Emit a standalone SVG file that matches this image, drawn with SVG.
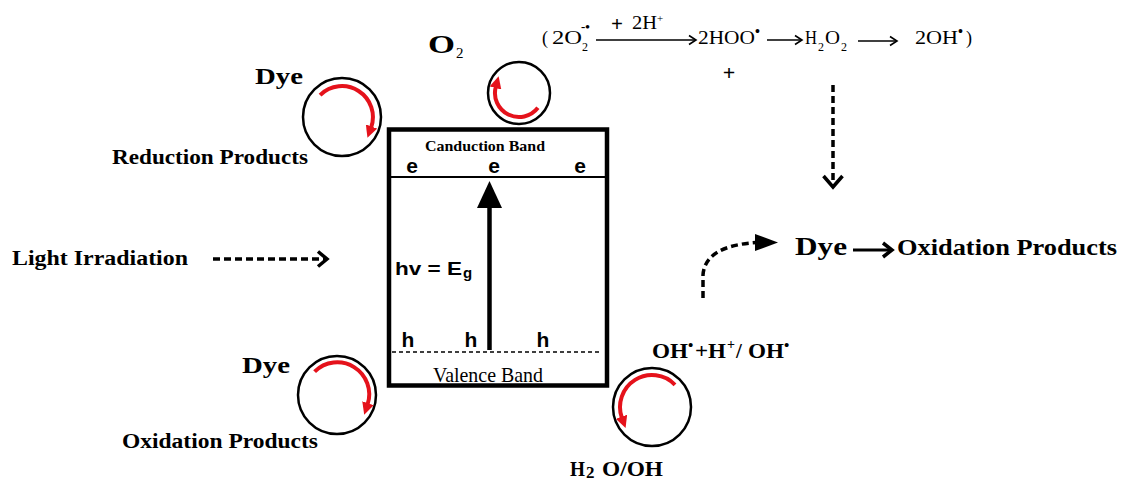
<svg xmlns="http://www.w3.org/2000/svg" width="1123" height="480" viewBox="0 0 1123 480">
<style>
.sb{font-family:"Liberation Serif","Times New Roman",serif;font-weight:bold;fill:#000}
.sr{font-family:"Liberation Serif","Times New Roman",serif;fill:#000}
.ab{font-family:"Liberation Sans",Arial,sans-serif;font-weight:bold;fill:#000}
.ring{fill:#fff;stroke:#000;stroke-width:2.5}
.red{fill:none;stroke:#e5121b;stroke-width:4;marker-end:url(#rh)}
.dash{fill:none;stroke:#000;stroke-width:3.5;stroke-dasharray:7 4}
.thin{fill:none;stroke:#000;stroke-width:1.6}
.chev{fill:none;stroke:#000;stroke-width:3.5;stroke-linejoin:miter}
.dot{fill:#000}
</style>
<defs>
<marker id="rh" viewBox="0 0 10 10" refX="1" refY="5" markerWidth="12" markerHeight="12" markerUnits="userSpaceOnUse" orient="auto">
<path d="M0,0 L10,5 L0,10 z" fill="#e5121b"/>
</marker>
</defs>
<rect width="1123" height="480" fill="#fff"/>

<g id="semiconductor">
<rect x="389" y="129.5" width="218" height="256" fill="none" stroke="#000" stroke-width="4.5"/>
<line x1="391" y1="177" x2="605" y2="177" stroke="#000" stroke-width="2"/>
<line x1="392" y1="352" x2="601" y2="352" stroke="#000" stroke-width="1.5" stroke-dasharray="4 3"/>
<text class="sb" x="425" y="151" font-size="15" textLength="120" lengthAdjust="spacingAndGlyphs">Canduction Band</text>
<text class="ab" x="412" y="173" font-size="21" text-anchor="middle">e</text>
<text class="ab" x="494" y="173" font-size="21" text-anchor="middle">e</text>
<text class="ab" x="580" y="173" font-size="21" text-anchor="middle">e</text>
<text class="ab" x="408" y="347" font-size="21" text-anchor="middle">h</text>
<text class="ab" x="471" y="347" font-size="21" text-anchor="middle">h</text>
<text class="ab" x="543" y="347" font-size="21" text-anchor="middle">h</text>
<text class="sr" x="433" y="382" font-size="22" textLength="110" lengthAdjust="spacingAndGlyphs">Valence Band</text>
<text class="ab" x="395" y="275" font-size="19" textLength="67" lengthAdjust="spacingAndGlyphs">hv = E</text>
<text class="ab" x="463" y="278" font-size="15">g</text>
<line x1="489.5" y1="350" x2="489.5" y2="205" stroke="#000" stroke-width="4.5"/>
<polygon points="477,208 489.5,181 502,208" fill="#000"/>
</g>

<g id="dye-reduction">
<circle class="ring" cx="342" cy="117" r="39"/>
<path class="red" d="M320.1,95.1 A31,31 0 0 1 371.1,127.6"/>
<text class="sb" x="255" y="84" font-size="23" textLength="48" lengthAdjust="spacingAndGlyphs">Dye</text>
<text class="sb" x="112" y="164" font-size="20" textLength="196" lengthAdjust="spacingAndGlyphs">Reduction Products</text>
</g>

<g id="o2">
<circle class="ring" cx="519" cy="93" r="31"/>
<path class="red" d="M537.9,107.8 A24,24 0 0 1 495.8,86.8"/>
<text class="sb" x="428" y="53" font-size="26" textLength="27" lengthAdjust="spacingAndGlyphs">O</text>
<text class="sr" x="456" y="58" font-size="15">2</text>
</g>

<g id="dye-oxidation">
<circle class="ring" cx="337" cy="395" r="39"/>
<path class="red" d="M314.6,371.7 A32,32 0 0 1 367.6,404.4"/>
<text class="sb" x="242" y="373" font-size="23" textLength="48" lengthAdjust="spacingAndGlyphs">Dye</text>
<text class="sb" x="122" y="448" font-size="20" textLength="196" lengthAdjust="spacingAndGlyphs">Oxidation Products</text>
</g>

<g id="water">
<circle class="ring" cx="652" cy="407" r="39"/>
<path class="red" d="M675,384.8 A32,32 0 0 0 621.9,417.9"/>
<text class="sb" x="652" y="358" font-size="21" textLength="36" lengthAdjust="spacingAndGlyphs">OH</text>
<text class="sb" x="688" y="350" font-size="15">•</text>
<text class="sb" x="695" y="358" font-size="21" textLength="31" lengthAdjust="spacingAndGlyphs">+H</text>
<text class="sb" x="727" y="349" font-size="14">+</text>
<text class="sb" x="736" y="358" font-size="21">/</text>
<text class="sb" x="748" y="358" font-size="21" textLength="36" lengthAdjust="spacingAndGlyphs">OH</text>
<text class="sb" x="784" y="350" font-size="15">•</text>
<text class="sb" x="570" y="476" font-size="22" textLength="15" lengthAdjust="spacingAndGlyphs">H</text>
<text class="sb" x="586" y="478" font-size="17">2</text>
<text class="sb" x="602" y="476" font-size="22" textLength="61" lengthAdjust="spacingAndGlyphs">O/OH</text>
</g>

<g id="light">
<text class="sb" x="12" y="265" font-size="20" textLength="176" lengthAdjust="spacingAndGlyphs">Light Irradiation</text>
</g>

<g id="equation">
<text class="sr" x="542" y="44" font-size="18">(</text>
<text class="sr" x="552" y="44" font-size="18" textLength="30" lengthAdjust="spacingAndGlyphs">2O</text>
<text class="sr" x="582" y="51" font-size="12">2</text>
<text class="sb" x="581" y="31" font-size="13">-•</text>
<text class="sb" x="611" y="31" font-size="21">+</text>
<text class="sr" x="632" y="29" font-size="18" textLength="25" lengthAdjust="spacingAndGlyphs">2H</text>
<text class="sr" x="657" y="22" font-size="11">+</text>
<text class="sr" x="698" y="44" font-size="18" textLength="57" lengthAdjust="spacingAndGlyphs">2HOO</text>
<text class="sb" x="755" y="36" font-size="14">•</text>
<text class="sr" x="805" y="44" font-size="18" textLength="12" lengthAdjust="spacingAndGlyphs">H</text>
<text class="sr" x="818" y="51" font-size="12">2</text>
<text class="sr" x="825" y="44" font-size="18" textLength="15" lengthAdjust="spacingAndGlyphs">O</text>
<text class="sr" x="841" y="51" font-size="12">2</text>
<text class="sr" x="915" y="44" font-size="18" textLength="43" lengthAdjust="spacingAndGlyphs">2OH</text>
<text class="sb" x="958" y="36" font-size="14">•</text>
<text class="sr" x="966" y="44" font-size="18">)</text>
<text class="sb" x="729" y="80" font-size="22" text-anchor="middle">+</text>
</g>

<g id="dye-right">
<text class="sb" x="795" y="255" font-size="26" textLength="52" lengthAdjust="spacingAndGlyphs">Dye</text>
<text class="sb" x="897" y="255" font-size="23" textLength="220" lengthAdjust="spacingAndGlyphs">Oxidation Products</text>
</g>

<g id="connectors">
<line class="dash" x1="213" y1="259" x2="325" y2="259" stroke-width="3" stroke-dasharray="8 4"/>
<polyline class="chev" points="318,251.5 327,259 318,266.5" stroke-width="3"/>
<line class="dash" x1="833" y1="85" x2="833" y2="184"/>
<polyline class="chev" points="823.5,176 833,187 842.5,176"/>
<path class="dash" d="M703,298 L703,275 Q705,246 756,242.5"/>
<polygon points="755,234 778,242.5 755,251" fill="#000"/>
<line x1="853" y1="250" x2="890" y2="250" stroke="#000" stroke-width="3"/>
<polyline class="chev" points="883,243 892,250 883,257" stroke-width="3"/>
<line class="thin" x1="596" y1="40" x2="696" y2="40"/>
<polyline class="thin" points="689,35.5 696,40 689,44.5"/>
<line class="thin" x1="767" y1="40" x2="802" y2="40"/>
<polyline class="thin" points="795,35.5 802,40 795,44.5"/>
<line class="thin" x1="858" y1="41" x2="897" y2="41"/>
<polyline class="thin" points="890,36.5 897,41 890,45.5"/>
</g>
</svg>
